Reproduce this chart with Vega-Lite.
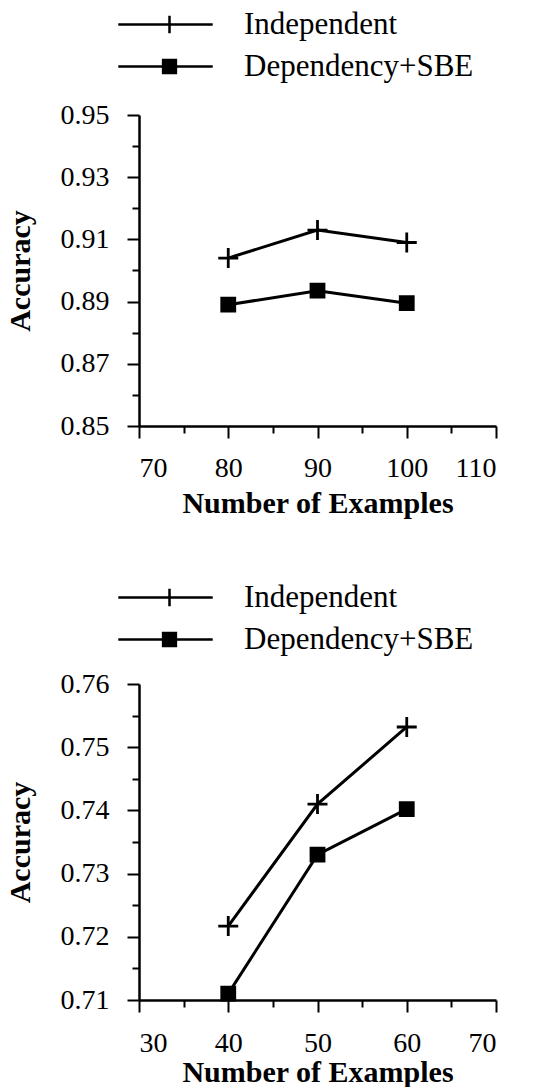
{
  "$schema": "https://vega.github.io/schema/vega-lite/v6.json",
  "background": "white",
  "padding": {"left": 5, "top": 9, "right": 10, "bottom": 0},
  "spacing": 64,
  "resolve": {"scale": {"shape": "independent", "x": "independent", "y": "independent"}, "legend": {"shape": "independent"}},
  "config": {
    "view": {"stroke": null},
    "axis": {
      "grid": false,
      "domainColor": "black",
      "domainWidth": 2.5,
      "tickColor": "black",
      "tickWidth": 2,
      "labelFont": "Liberation Serif",
      "labelFontSize": 28,
      "labelColor": "black",
      "labelOverlap": false,
      "titleFont": "Liberation Serif",
      "titleFontSize": 30,
      "titleFontWeight": "bold",
      "titleColor": "black"
    },
    "legend": {
      "orient": "none", "legendX": 15, "legendY": -106, "title": null, "direction": "vertical",
      "symbolSize": 256, "symbolStrokeWidth": 2.5,
      "labelFont": "Liberation Serif", "labelFontSize": 31, "labelColor": "black",
      "labelOffset": 59, "labelLimit": 400, "rowPadding": 10, "padding": 0
    }
  },
  "vconcat": [
    {
      "width": 357,
      "height": 311,
      "data": {"values": [
        {"examples": 80, "accuracy": 0.904, "method": "Independent"},
        {"examples": 90, "accuracy": 0.913, "method": "Independent"},
        {"examples": 100, "accuracy": 0.909, "method": "Independent"},
        {"examples": 80, "accuracy": 0.889, "method": "Dependency+SBE"},
        {"examples": 90, "accuracy": 0.8935, "method": "Dependency+SBE"},
        {"examples": 100, "accuracy": 0.8895, "method": "Dependency+SBE"}
      ]},
      "encoding": {
        "x": {"field": "examples", "type": "quantitative", "title": "Number of Examples",
          "scale": {"domain": [70, 110], "nice": false, "zero": false},
          "axis": {"values": [70, 75, 80, 85, 90, 95, 100, 105, 110],
            "labelExpr": "datum.value % 10 == 0 ? datum.label : ''",
            "tickSize": {"condition": {"test": "datum.value % 10 == 0", "value": 12}, "value": 7},
            "labelPadding": 16, "titlePadding": 6}},
        "y": {"field": "accuracy", "type": "quantitative", "title": "Accuracy",
          "scale": {"domain": [0.85, 0.95], "nice": false, "zero": false},
          "axis": {"values": [0.85, 0.86, 0.87, 0.88, 0.89, 0.9, 0.91, 0.92, 0.93, 0.94, 0.95],
            "labelExpr": "round(datum.value*100) % 2 == 1 ? format(datum.value, '.2f') : ''",
            "tickSize": {"condition": {"test": "round(datum.value*100) % 2 == 1", "value": 12}, "value": 7},
            "labelPadding": 18, "titlePadding": 25}}
      },
      "resolve": {"scale": {"shape": "independent"}},
      "layer": [
        {"mark": {"type": "line", "color": "black", "strokeWidth": 3},
          "encoding": {"detail": {"field": "method", "type": "nominal"}}},
        {"mark": {"type": "point", "filled": true, "fill": "black", "stroke": "black", "strokeWidth": 2.8, "size": 400, "opacity": 1},
          "encoding": {"shape": {"field": "method", "type": "nominal", "legend": null,
            "scale": {"domain": ["Independent", "Dependency+SBE"], "range": ["M-1,0H1M0,-1V1", "M-0.65,-0.65H0.65V0.65H-0.65Z"]}}}},
        {"transform": [{"filter": "false"}],
          "mark": {"type": "point", "filled": true, "fill": "black", "stroke": "black", "strokeWidth": 2.5, "opacity": 1},
          "encoding": {"shape": {"field": "method", "type": "nominal",
            "scale": {"domain": ["Independent", "Dependency+SBE"], "range": ["M-6.4,0H5.4M0,-1.1V1.1", "M-6.4,0H5.4M-0.8,-0.8H0.8V0.8H-0.8Z"]},
            "legend": {}}}}
      ]
    },
    {
      "width": 357,
      "height": 316,
      "data": {"values": [
        {"examples": 40, "accuracy": 0.7217, "method": "Independent"},
        {"examples": 50, "accuracy": 0.741, "method": "Independent"},
        {"examples": 60, "accuracy": 0.7532, "method": "Independent"},
        {"examples": 40, "accuracy": 0.711, "method": "Dependency+SBE"},
        {"examples": 50, "accuracy": 0.733, "method": "Dependency+SBE"},
        {"examples": 60, "accuracy": 0.7402, "method": "Dependency+SBE"}
      ]},
      "encoding": {
        "x": {"field": "examples", "type": "quantitative", "title": "Number of Examples",
          "scale": {"domain": [30, 70], "nice": false, "zero": false},
          "axis": {"values": [30, 35, 40, 45, 50, 55, 60, 65, 70],
            "labelExpr": "datum.value % 10 == 0 ? datum.label : ''",
            "tickSize": {"condition": {"test": "datum.value % 10 == 0", "value": 12}, "value": 7},
            "labelPadding": 17, "titlePadding": 0}},
        "y": {"field": "accuracy", "type": "quantitative", "title": "Accuracy",
          "scale": {"domain": [0.71, 0.76], "nice": false, "zero": false},
          "axis": {"values": [0.71, 0.715, 0.72, 0.725, 0.73, 0.735, 0.74, 0.745, 0.75, 0.755, 0.76],
            "labelExpr": "round(datum.value*1000) % 10 == 0 ? format(datum.value, '.2f') : ''",
            "tickSize": {"condition": {"test": "round(datum.value*1000) % 10 == 0", "value": 12}, "value": 7},
            "labelPadding": 18, "titlePadding": 25}}
      },
      "resolve": {"scale": {"shape": "independent"}},
      "layer": [
        {"mark": {"type": "line", "color": "black", "strokeWidth": 3},
          "encoding": {"detail": {"field": "method", "type": "nominal"}}},
        {"mark": {"type": "point", "filled": true, "fill": "black", "stroke": "black", "strokeWidth": 2.8, "size": 400, "opacity": 1},
          "encoding": {"shape": {"field": "method", "type": "nominal", "legend": null,
            "scale": {"domain": ["Independent", "Dependency+SBE"], "range": ["M-1,0H1M0,-1V1", "M-0.65,-0.65H0.65V0.65H-0.65Z"]}}}},
        {"transform": [{"filter": "false"}],
          "mark": {"type": "point", "filled": true, "fill": "black", "stroke": "black", "strokeWidth": 2.5, "opacity": 1},
          "encoding": {"shape": {"field": "method", "type": "nominal",
            "scale": {"domain": ["Independent", "Dependency+SBE"], "range": ["M-6.4,0H5.4M0,-1.1V1.1", "M-6.4,0H5.4M-0.8,-0.8H0.8V0.8H-0.8Z"]},
            "legend": {"legendY": -102}}}}
      ]
    }
  ]
}
